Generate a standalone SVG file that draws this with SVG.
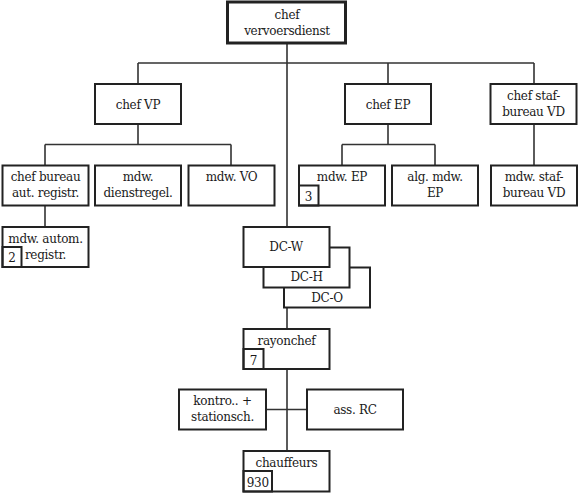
<svg xmlns="http://www.w3.org/2000/svg" width="579" height="493" viewBox="0 0 579 493">
<style>
.b{fill:#fff;stroke:#222;stroke-width:2}
.n{fill:none;stroke:#222;stroke-width:2}
.c{fill:none;stroke:#333;stroke-width:1.6}
.t text{font-size:12px;letter-spacing:-0.3px;fill:#1a1a1a;text-anchor:middle}
</style>
<rect width="579" height="493" fill="#fff"/>
<g id="connectors">
<path class="c" d="M287 43V227M138 63H534M138 63V84M388 63V84M534 63V84"/>
<path class="c" d="M138 124V144.5M45 144.5H231M45 144.5V165.5M231 144.5V165.5"/>
<path class="c" d="M388 124V144.5M342 144.5H435M342 144.5V165.5M435 144.5V165.5"/>
<path class="c" d="M534 124V165.5"/>
<path class="c" d="M45 205.5V227"/>
<path class="c" d="M287 307.5V329M287 369V451M266 409.5H307"/>
</g>
<g class="t" font-family="'DejaVu Serif', 'Liberation Serif', serif">
<g id="chef-vervoersdienst"><rect x="227.5" y="2" width="118" height="41" fill="#fff" stroke="#222" stroke-width="3"/><text x="287" y="18.5">chef</text><text x="287" y="35">vervoersdienst</text></g>
<g id="chef-vp"><rect class="b" x="95" y="84" width="86" height="40"/><text x="138" y="108.5">chef VP</text></g>
<g id="chef-ep"><rect class="b" x="345" y="84" width="86" height="40"/><text x="388" y="108.5">chef EP</text></g>
<g id="chef-stafbureau"><rect class="b" x="490.5" y="84" width="86" height="40"/><text x="533.5" y="99.5">chef staf-</text><text x="533.5" y="116">bureau VD</text></g>
<g id="chef-bureau"><rect class="b" x="2.5" y="165.5" width="86" height="40"/><text x="45.5" y="181">chef bureau</text><text x="45.5" y="197">aut. registr.</text></g>
<g id="mdw-dienstregel"><rect class="b" x="95" y="165.5" width="86" height="40"/><text x="138" y="181">mdw.</text><text x="138" y="197">dienstregel.</text></g>
<g id="mdw-vo"><rect class="b" x="188.5" y="165.5" width="86" height="40"/><text x="231.5" y="181">mdw. VO</text></g>
<g id="mdw-ep"><rect class="b" x="299" y="165.5" width="86" height="40"/><text x="342" y="181">mdw. EP</text><rect class="n" x="299" y="185.5" width="19.5" height="20"/><text x="308.5" y="200.5">3</text></g>
<g id="alg-mdw-ep"><rect class="b" x="392" y="165.5" width="86" height="40"/><text x="435" y="181">alg. mdw.</text><text x="435" y="197">EP</text></g>
<g id="mdw-stafbureau"><rect class="b" x="491" y="165.5" width="86" height="40"/><text x="534" y="181">mdw. staf-</text><text x="534" y="197">bureau VD</text></g>
<g id="mdw-autom"><rect class="b" x="2.5" y="227" width="86" height="40"/><text x="45.5" y="243">mdw. autom.</text><text x="45.5" y="259">registr.</text><rect class="n" x="2.5" y="247" width="19" height="20"/><text x="12" y="262">2</text></g>
<g id="dc-o"><rect class="b" x="284" y="267.5" width="86" height="40"/><text x="327" y="301.5">DC-O</text></g>
<g id="dc-h"><rect class="b" x="263.5" y="247.5" width="86" height="40"/><text x="306.5" y="281">DC-H</text></g>
<g id="dc-w"><rect class="b" x="243.5" y="227" width="86" height="40"/><text x="286" y="250.5">DC-W</text></g>
<g id="rayonchef"><rect class="b" x="243.5" y="329" width="86" height="40"/><text x="286.5" y="344.5">rayonchef</text><rect class="n" x="243.5" y="349" width="20" height="20"/><text x="253.5" y="364.5">7</text></g>
<g id="kontro"><rect class="b" x="179" y="389.5" width="87" height="40"/><text x="222.5" y="404.5">kontro.. +</text><text x="222.5" y="421">stationsch.</text></g>
<g id="ass-rc"><rect class="b" x="307" y="389.5" width="96" height="40"/><text x="355" y="414">ass. RC</text></g>
<g id="chauffeurs"><rect class="b" x="243.5" y="451" width="86" height="40.5"/><text x="286.5" y="466.5">chauffeurs</text><rect class="n" x="243.5" y="471" width="28.5" height="20.5"/><text x="257.8" y="486.5">930</text></g>
</g>
</svg>
